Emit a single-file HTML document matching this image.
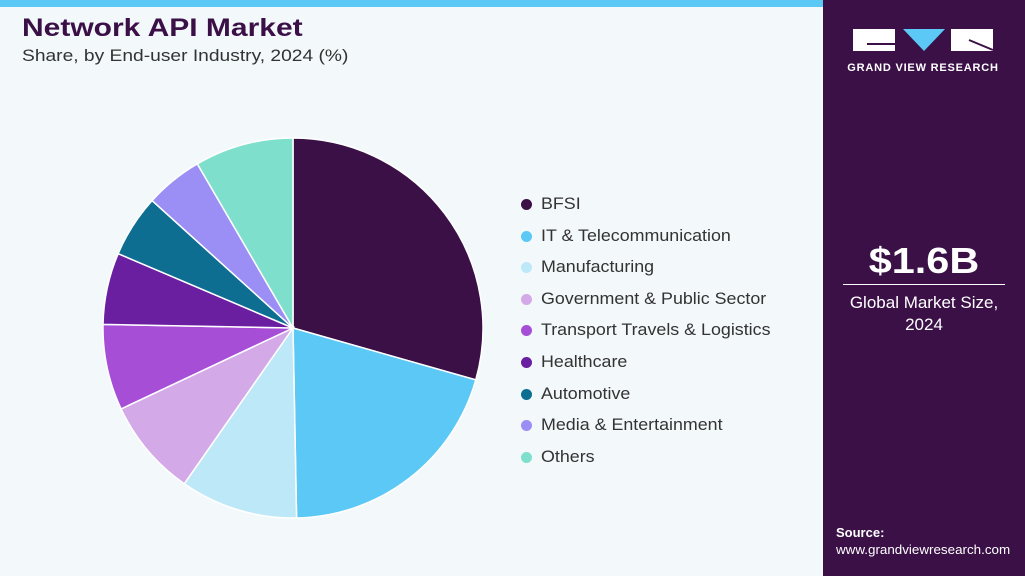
<!DOCTYPE html>
<html><head><meta charset="utf-8"><style>
body{margin:0;width:1025px;height:576px;overflow:hidden;font-family:"Liberation Sans",sans-serif;background:#fff}
#wrap{position:absolute;left:0;top:0;width:1025px;height:576px;background:#f3f8fb}
#topbar{position:absolute;left:0;top:0;width:823px;height:7px;background:#5bc8f5}
#side{position:absolute;left:823px;top:0;width:202px;height:576px;background:#3a1047;color:#fff}
h1{position:absolute;left:22px;top:14px;margin:0;font-size:25px;font-weight:bold;color:#3a1047;transform:scaleX(1.2);transform-origin:left;white-space:nowrap}
#sub{position:absolute;left:22px;top:46px;font-size:17px;color:#333;transform:scaleX(1.13);transform-origin:left;white-space:nowrap}
.leg{position:absolute;left:521px;font-size:17px;color:#333;height:20px;line-height:20px;white-space:nowrap}
.leg i{display:inline-block;width:11px;height:11px;border-radius:50%;margin-right:9px;vertical-align:-1px}
.leg span{display:inline-block;transform:scaleX(1.05);transform-origin:left}
</style></head><body>
<div id="wrap">
<div id="topbar"></div>
<h1>Network API Market</h1>
<div id="sub">Share, by End-user Industry, 2024 (%)</div>
<svg id="pie" width="823" height="576" style="position:absolute;left:0;top:0"></svg>
<div id="legend"></div>
<div id="side">
 <svg width="202" height="60" style="position:absolute;left:0;top:20px">
  <rect x="30" y="9" width="42" height="22" fill="#fff"/>
  <polygon points="80,9 122,9 101,31" fill="#5bc8f5"/>
  <rect x="128" y="9" width="42" height="22" fill="#fff"/>
  <line x1="44" y1="24" x2="72" y2="24" stroke="#3a1047" stroke-width="2"/>
  <line x1="146" y1="20" x2="170" y2="30" stroke="#3a1047" stroke-width="2"/>
  <text x="100" y="51" text-anchor="middle" font-size="11" font-weight="bold" fill="#fff" letter-spacing="0.8" font-family="Liberation Sans">GRAND VIEW RESEARCH</text>
 </svg>
 <div style="position:absolute;left:0;width:202px;top:240px;text-align:center;font-size:36px;font-weight:bold;transform:scaleX(1.15)">$1.6B</div>
 <div style="position:absolute;left:20px;width:162px;top:284px;border-top:1px solid #fff"></div>
 <div style="position:absolute;left:0;width:202px;top:292px;text-align:center;font-size:17px;line-height:22px">Global Market Size,<br>2024</div>
 <div style="position:absolute;left:13px;top:525px;font-size:13px;font-weight:bold">Source:</div>
 <div style="position:absolute;left:13px;top:542px;font-size:13px;transform:scaleX(1.03);transform-origin:left;white-space:nowrap">www.grandviewresearch.com</div>
</div>
</div>
<script>
const categories=["BFSI","IT & Telecommunication","Manufacturing","Government & Public Sector","Transport Travels & Logistics","Healthcare","Automotive","Media & Entertainment","Others"];
const shares=[29.4,20.3,10.0,8.3,7.3,6.1,5.3,4.9,8.4];
const colors=["#3a1047","#5bc8f5","#bde8f8","#d4a9e8","#a64fd6","#6a1fa0","#0d6e91","#9b8ef5","#7ee0cc"];
const svg=document.getElementById('pie');
const cx=293,cy=328,r=190;
const total=shares.reduce((a,b)=>a+b,0);
let a0=0;
function pt(a){const t=a/total*2*Math.PI;return [cx+r*Math.sin(t),cy-r*Math.cos(t)];}
shares.forEach((v,i)=>{
 const a1=a0+v;const [x0,y0]=pt(a0),[x1,y1]=pt(a1);
 const large=v/total>0.5?1:0;
 const p=document.createElementNS('http://www.w3.org/2000/svg','path');
 p.setAttribute('d',`M${cx},${cy}L${x0},${y0}A${r},${r} 0 ${large} 1 ${x1},${y1}Z`);
 p.setAttribute('fill',colors[i]);p.setAttribute('stroke','#fff');p.setAttribute('stroke-width','1.5');
 
 
 svg.appendChild(p);a0=a1;
});
const lg=document.getElementById('legend');
categories.forEach((c,i)=>{
 const d=document.createElement('div');d.className='leg';d.style.top=(194+i*31.6)+'px';
 d.innerHTML=`<i style="background:${colors[i]}"></i><span>${c.replace('&','&amp;')}</span>`;
 
 
 lg.appendChild(d);
});
</script>
</body></html>
